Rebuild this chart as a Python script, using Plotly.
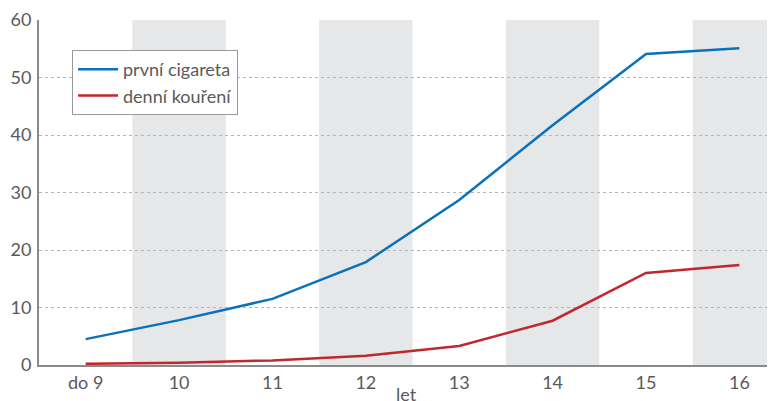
import plotly.graph_objects as go

ages = ["do 9", "10", "11", "12", "13", "14", "15", "16"]
first_cig = [4.5, 7.8, 11.5, 17.9, 28.7, 41.7, 54.1, 55.1]
daily = [0.2, 0.4, 0.8, 1.6, 3.3, 7.7, 16.0, 17.4]
shaded = ["10", "12", "14", "16"]

BLUE = "#0a72ba"
RED = "#c0282d"
TEXT = "#5a5a5a"
AXIS = "#8a8a8a"

fig = go.Figure()

# grey bands behind every second category
for cat in shaded:
    i = ages.index(cat)
    fig.add_shape(type="rect", xref="x", yref="y", x0=i - 0.5, x1=i + 0.5,
                  y0=0, y1=60, fillcolor="#e6e7e8", line_width=0, layer="below")

fig.add_trace(go.Scatter(x=ages, y=first_cig, name="první cigareta", mode="lines",
                         line=dict(color=BLUE, width=2.5)))
fig.add_trace(go.Scatter(x=ages, y=daily, name="denní kouření", mode="lines",
                         line=dict(color=RED, width=2.5)))

# axis title placed by hand, it sits just under the tick labels
fig.add_annotation(text="let", xref="paper", yref="paper", x=0.5, y=-0.047,
                   xanchor="center", yanchor="top", showarrow=False,
                   font=dict(size=18, color=TEXT))

# the page body has an 8px margin, so the figure is 8px smaller than the window
fig.update_layout(
    width=767, height=393,
    margin=dict(l=31, r=2, t=12, b=36, autoexpand=False),
    paper_bgcolor="white", plot_bgcolor="white",
    font=dict(family="Lato, Open Sans, sans-serif", size=18, color=TEXT),
    showlegend=True,
    legend=dict(x=0.045, y=0.913, xanchor="left", yanchor="top",
                bgcolor="white", bordercolor="#9a9a9a", borderwidth=1,
                font=dict(size=18, color=TEXT), tracegroupgap=0,
                entrywidth=172, itemwidth=40),
    xaxis=dict(range=[-0.5, 7.36], showgrid=False, showline=True, linecolor=AXIS,
               linewidth=2, ticks="", automargin=False, ticklabelstandoff=0),
    yaxis=dict(range=[0, 60], dtick=10, showgrid=True, gridcolor="#b5b5b5",
               griddash="dot", gridwidth=1, showline=True, linecolor=AXIS, linewidth=2,
               ticks="", zeroline=False, automargin=False, ticklabelstandoff=2),
)

fig.write_html("out.html")
